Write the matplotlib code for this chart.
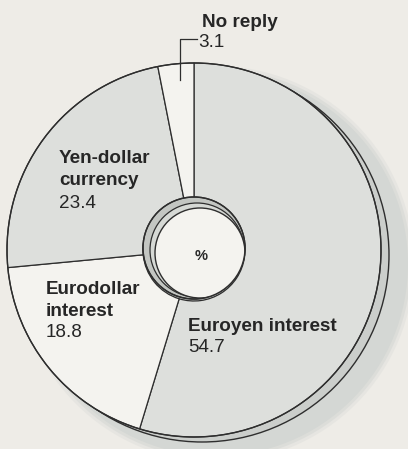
import matplotlib
matplotlib.use("Agg")
import matplotlib.pyplot as plt
from matplotlib.patches import Circle

# ---- data ----
labels = ["Euroyen interest", "Eurodollar interest", "Yen-dollar currency", "No reply"]
values = [54.7, 18.8, 23.4, 3.1]
value_labels = ["54.7", "18.8", "23.4", "3.1"]

# ---- style ----
W, H = 408, 449
BG = "#eeece7"
GRAY = "#dddfdc"
WHITE = "#f4f3ef"
BAND = "#cbcecb"
SHADOW = "#d4d7d4"
LINE = "#2e2e2e"
TXT = "#262626"
slice_colors = [GRAY, WHITE, GRAY, WHITE]

plt.rcParams['font.family'] = ['Liberation Sans', 'DejaVu Sans']

fig = plt.figure(figsize=(W / 100, H / 100), dpi=100, facecolor=BG)
ax = fig.add_axes([0, 0, 1, 1])
ax.set_facecolor(BG)

def Y(y):
    return H - y

cx, cy = 194, 250
R = 187
r_hole = 51

# soft shadow
for rs, a in [(198, 0.3), (195, 0.55), (192, 1.0)]:
    ax.add_patch(Circle((cx + 22, Y(cy + 14)), rs, facecolor=SHADOW, edgecolor='none',
                        alpha=a, zorder=1))
# disk side (back face)
ax.add_patch(Circle((cx + 8, Y(cy + 5)), R, facecolor=BAND, edgecolor=LINE, lw=1.0, zorder=2))

# front face donut
wedges, _ = ax.pie(values, colors=slice_colors, startangle=90, counterclock=False,
                   center=(cx, Y(cy)), radius=R,
                   wedgeprops=dict(width=R - r_hole, edgecolor=LINE, linewidth=0.9))
for w in wedges:
    w.set_zorder(3)
ax.add_patch(Circle((cx, Y(cy)), R, facecolor='none', edgecolor=LINE, lw=1.0, zorder=4))

# hole: inner wall and bottom
hx, hy = 194, 248
hole = Circle((hx, Y(hy)), r_hole, facecolor="#c3c6c2", edgecolor=LINE, lw=1.0, zorder=4)
ax.add_patch(hole)
mid = Circle((hx + 3, Y(hy + 2)), 47, facecolor="#d6d9d5", edgecolor=LINE, lw=0.9, zorder=5)
ax.add_patch(mid)
mid.set_clip_path(hole)
inner = Circle((hx + 6, Y(hy + 5)), 45, facecolor=WHITE, edgecolor=LINE, lw=1.0, zorder=6)
ax.add_patch(inner)
inner.set_clip_path(hole)
ax.add_patch(Circle((hx, Y(hy)), r_hole, facecolor='none', edgecolor=LINE, lw=1.0, zorder=7))

ax.text(201, Y(256), "%", fontsize=10.5, fontweight='bold', color=TXT,
        ha='center', va='center', zorder=8)

# ---- labels ----
fs = 13.6
def lab(x, y, s, bold=True):
    ax.text(x, Y(y), s, fontsize=fs, fontweight='bold' if bold else 'normal',
            color=TXT, ha='left', va='baseline', zorder=9)

lab(202, 27, "No reply")
lab(198, 47, value_labels[3], bold=False)
ax.plot([197, 180, 180], [Y(39), Y(39), Y(80)], color=LINE, lw=0.9, zorder=9)

lab(59, 163, "Yen-dollar")
lab(59, 185, "currency")
lab(59, 208, value_labels[2], bold=False)

lab(46, 294, "Eurodollar")
lab(46, 316, "interest")
lab(46, 337, value_labels[1], bold=False)

lab(188, 331, "Euroyen interest")
lab(188, 352, value_labels[0], bold=False)

ax.set_xlim(0, W)
ax.set_ylim(0, H)
ax.set_aspect('auto')
ax.axis('off')

fig.savefig("out.png", dpi=100, facecolor=BG)
